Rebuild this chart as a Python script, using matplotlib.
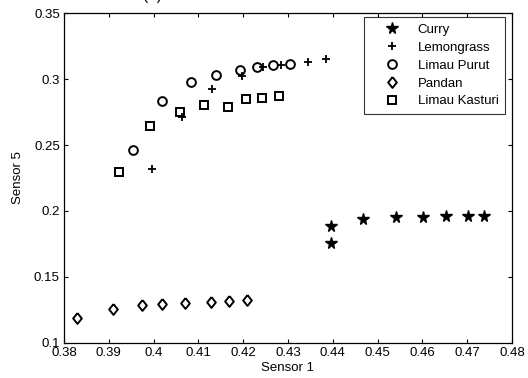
import matplotlib
matplotlib.use("Agg")
import matplotlib.pyplot as plt

plt.rcParams['font.family'] = ['Liberation Sans', 'DejaVu Sans']
plt.rcParams['font.size'] = 9.5

# data (Sensor 1 vs Sensor 5)
curry_x = [0.4396, 0.4396, 0.4468, 0.4541, 0.4601, 0.4652, 0.4701, 0.4738]
curry_y = [0.1886, 0.1760, 0.1937, 0.1952, 0.1957, 0.1964, 0.1964, 0.1964]

lemon_x = [0.3997, 0.4063, 0.4130, 0.4197, 0.4244, 0.4284, 0.4345, 0.4385]
lemon_y = [0.2318, 0.2710, 0.2922, 0.3020, 0.3093, 0.3108, 0.3127, 0.3152]

purut_x = [0.3953, 0.4019, 0.4084, 0.4139, 0.4192, 0.4230, 0.4266, 0.4304]
purut_y = [0.2460, 0.2836, 0.2975, 0.3033, 0.3067, 0.3088, 0.3104, 0.3112]

pandan_x = [0.3828, 0.3909, 0.3974, 0.4019, 0.4070, 0.4129, 0.4168, 0.4208]
pandan_y = [0.1187, 0.1260, 0.1288, 0.1295, 0.1303, 0.1310, 0.1318, 0.1326]

kasturi_x = [0.3923, 0.3992, 0.4059, 0.4112, 0.4165, 0.4206, 0.4241, 0.4280]
kasturi_y = [0.2293, 0.2644, 0.2752, 0.2805, 0.2790, 0.2848, 0.2858, 0.2874]

labels = ["Curry", "Lemongrass", "Limau Purut", "Pandan", "Limau Kasturi"]

diamond = [(0, 1), (0.8, 0), (0, -1), (-0.8, 0), (0, 1)]

fig = plt.figure(figsize=(5.28, 3.78), dpi=100)
ax = fig.add_axes([0.1212, 0.0926, 0.8485, 0.873])

ax.plot(curry_x, curry_y, ls='none', marker='*', ms=8.5, color='k', mec='k', label=labels[0])
ax.plot(lemon_x, lemon_y, ls='none', marker='+', ms=6, mew=1.3, color='k', label=labels[1])
ax.plot(purut_x, purut_y, ls='none', marker='o', ms=6.3, mew=1.4, mfc='none', mec='k', label=labels[2])
ax.plot(pandan_x, pandan_y, ls='none', marker=diamond, ms=7.8, mew=1.4, mfc='none', mec='k', label=labels[3])
ax.plot(kasturi_x, kasturi_y, ls='none', marker='s', ms=6.3, mew=1.4, mfc='none', mec='k', label=labels[4])

ax.set_xlim(0.38, 0.48)
ax.set_ylim(0.1, 0.35)
ax.set_xticks([0.38, 0.39, 0.4, 0.41, 0.42, 0.43, 0.44, 0.45, 0.46, 0.47, 0.48])
ax.set_xticklabels(['0.38', '0.39', '0.4', '0.41', '0.42', '0.43', '0.44', '0.45', '0.46', '0.47', '0.48'])
ax.set_yticks([0.1, 0.15, 0.2, 0.25, 0.3, 0.35])
ax.set_yticklabels(['0.1', '0.15', '0.2', '0.25', '0.3', '0.35'])
ax.tick_params(direction='in', top=True, right=True, length=3, width=0.8)
ax.tick_params(axis='x', pad=3)
ax.tick_params(axis='y', pad=3)
for s in ax.spines.values():
    s.set_linewidth(0.9)

ax.set_xlabel("Sensor 1", labelpad=2)
ax.set_ylabel("Sensor 5", labelpad=7)

leg = ax.legend(loc='upper right', bbox_to_anchor=(0.985, 0.988), frameon=True, fancybox=False,
                edgecolor='k', handlelength=3.2, handletextpad=0.35, borderpad=0.5,
                labelspacing=0.43, borderaxespad=0)
leg.get_frame().set_linewidth(0.8)

fig.text(152 / 528, 1.01, "(a)", ha='center', va='center', fontsize=11)

fig.savefig("out.png", dpi=100)
